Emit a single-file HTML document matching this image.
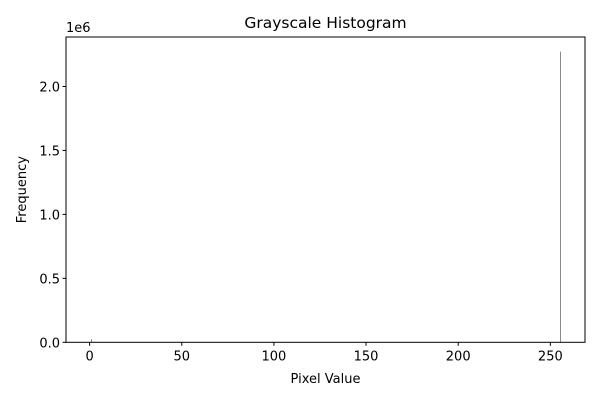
<!DOCTYPE html>
<html><head><meta charset="utf-8"><style>
body{margin:0;background:#fff;}
svg text{font-family:"DejaVu Sans","Liberation Sans",sans-serif;fill:#000;}
</style></head><body>
<svg id="chart" width="600" height="400"></svg>
<script>
const binStarts = [0, 255];
const binCounts = [25000, 2273000];
const xTicks = [0, 50, 100, 150, 200, 250];
const yTicks = [0, 0.5, 1.0, 1.5, 2.0];
const yTickLabels = ["0.0", "0.5", "1.0", "1.5", "2.0"];

const L=66, R=585, T=37, B=342.3;
const xMin=-12.8, xMax=268.8, yMax=2.387e6;
const sx=v=>L+(v-xMin)/(xMax-xMin)*(R-L);
const sy=v=>B-v/yMax*(B-T);
const svg=document.getElementById('chart');
const NS='http://www.w3.org/2000/svg';
function mk(tag,attrs,parent){const e=document.createElementNS(NS,tag);for(const k in attrs)e.setAttribute(k,attrs[k]);(parent||svg).appendChild(e);return e;}

binStarts.forEach((s,i)=>{
  const x=Math.round(sx(s+0.5))+0.5;
  const r=mk('line',{x1:x,x2:x,y1:sy(binCounts[i]),y2:B,stroke:'#8a8a8a','stroke-width':1});
  
  
});

const frame=mk('rect',{x:L,y:T,width:R-L,height:B-T,fill:'none',stroke:'#000','stroke-width':1});



xTicks.forEach(v=>{
  const x=sx(v);
  mk('line',{x1:x,x2:x,y1:B,y2:B+3.5,stroke:'#000'});
  const t=mk('text',{x:x,y:B+18,'text-anchor':'middle','font-size':13});
  t.textContent=v;
  
  
});
yTicks.forEach((v,i)=>{
  const y=sy(v*1e6);
  mk('line',{x1:L,x2:L-3.5,y1:y,y2:y,stroke:'#000'});
  const t=mk('text',{x:L-6,y:y+5,'text-anchor':'end','font-size':13});
  t.textContent=yTickLabels[i];
  
  
});
const off=mk('text',{x:L,y:T-5,'font-size':13});off.textContent='1e6';


const title=mk('text',{x:(L+R)/2,y:28,'text-anchor':'middle','font-size':15.5});title.textContent='Grayscale Histogram';


const xl=mk('text',{x:(L+R)/2,y:383,'text-anchor':'middle','font-size':13});xl.textContent='Pixel Value';


const yl=mk('text',{x:0,y:0,'text-anchor':'middle','font-size':13,transform:`translate(26,${(T+B)/2}) rotate(-90)`});yl.textContent='Frequency';


</script>
</body></html>
